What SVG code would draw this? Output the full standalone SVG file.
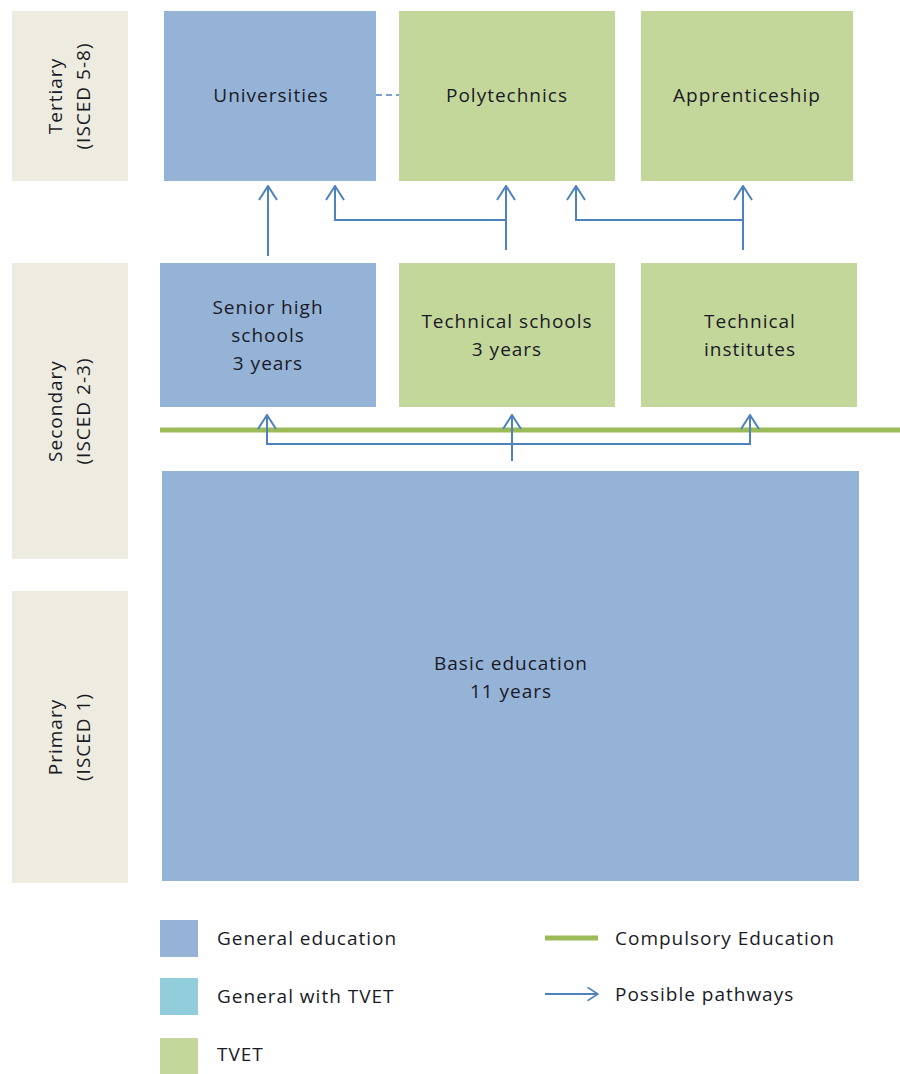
<svg xmlns="http://www.w3.org/2000/svg" width="900" height="1074" viewBox="0 0 900 1074">
  <style>
    .lvl { fill: #eeece1; }
    .gen { fill: #95b3d7; }
    .tvet { fill: #c4d79b; }
    .mix { fill: #92cddc; }
    text { font-family: "Open Sans", "Liberation Sans", sans-serif; font-size: 19px; fill: #1a1a26; letter-spacing: 1px; }
    .c { text-anchor: middle; }
    .path { fill: none; stroke: #4f81bd; stroke-width: 2; }
    .compulsory { stroke: #9bbb59; stroke-width: 5; }
  </style>
  <defs>
    <marker id="head" viewBox="0 0 16 20" refX="15" refY="10" markerWidth="16" markerHeight="20" markerUnits="userSpaceOnUse" orient="auto">
      <path d="M1,1 L15,10 L1,19" fill="none" stroke="#4f81bd" stroke-width="2"/>
    </marker>
    <marker id="headSmall" viewBox="0 0 16 20" refX="15" refY="10" markerWidth="12" markerHeight="15" markerUnits="userSpaceOnUse" orient="auto">
      <path d="M1,1 L15,10 L1,19" fill="none" stroke="#4f81bd" stroke-width="2"/>
    </marker>
  </defs>

  <!-- level labels -->
  <g id="level-tertiary">
    <rect class="lvl" x="12" y="11" width="116" height="170"/>
    <g transform="translate(0,96) rotate(-90)">
      <text class="c" x="0" y="62">Tertiary</text>
      <text class="c" x="0" y="90">(ISCED 5-8)</text>
    </g>
  </g>
  <g id="level-secondary">
    <rect class="lvl" x="12" y="263" width="116" height="296"/>
    <g transform="translate(0,411) rotate(-90)">
      <text class="c" x="0" y="62">Secondary</text>
      <text class="c" x="0" y="90">(ISCED 2-3)</text>
    </g>
  </g>
  <g id="level-primary">
    <rect class="lvl" x="12" y="591" width="116" height="292"/>
    <g transform="translate(0,737) rotate(-90)">
      <text class="c" x="0" y="62">Primary</text>
      <text class="c" x="0" y="90">(ISCED 1)</text>
    </g>
  </g>

  <!-- tertiary institutions -->
  <g id="universities">
    <rect class="gen" x="164" y="11" width="212" height="170"/>
    <text class="c" x="271" y="102">Universities</text>
  </g>
  <g id="polytechnics">
    <rect class="tvet" x="399" y="11" width="216" height="170"/>
    <text class="c" x="507" y="102">Polytechnics</text>
  </g>
  <g id="apprenticeship">
    <rect class="tvet" x="641" y="11" width="212" height="170"/>
    <text class="c" x="747" y="102">Apprenticeship</text>
  </g>

  <!-- secondary institutions -->
  <g id="senior-high">
    <rect class="gen" x="160" y="263" width="216" height="144"/>
    <text class="c" x="268" y="314">Senior high</text>
    <text class="c" x="268" y="342">schools</text>
    <text class="c" x="268" y="370">3 years</text>
  </g>
  <g id="technical-schools">
    <rect class="tvet" x="399" y="263" width="216" height="144"/>
    <text class="c" x="507" y="328">Technical schools</text>
    <text class="c" x="507" y="356">3 years</text>
  </g>
  <g id="technical-institutes">
    <rect class="tvet" x="641" y="263" width="216" height="144"/>
    <text class="c" x="750" y="328">Technical</text>
    <text class="c" x="750" y="356">institutes</text>
  </g>

  <!-- basic education -->
  <g id="basic-education">
    <rect class="gen" x="162" y="471" width="697" height="410"/>
    <text class="c" x="511" y="670">Basic education</text>
    <text class="c" x="511" y="698">11 years</text>
  </g>

  <!-- compulsory education boundary -->
  <line id="compulsory-line" class="compulsory" x1="160" y1="430" x2="900" y2="430"/>

  <!-- pathways -->
  <g id="connectors">
    <line x1="376" y1="95" x2="399" y2="95" stroke="#4f81bd" stroke-width="1.5" stroke-dasharray="6,4"/>
    <path class="path" d="M268,256 V186" marker-end="url(#head)"/>
    <path class="path" d="M506,250 V186" marker-end="url(#head)"/>
    <path class="path" d="M506,220 H335 V186" marker-end="url(#head)"/>
    <path class="path" d="M743,250 V186" marker-end="url(#head)"/>
    <path class="path" d="M743,220 H576 V186" marker-end="url(#head)"/>
    <path class="path" d="M512,461 V415" marker-end="url(#head)"/>
    <path class="path" d="M512,444 H267 V415" marker-end="url(#head)"/>
    <path class="path" d="M512,444 H750 V415" marker-end="url(#head)"/>
  </g>

  <!-- legend -->
  <g id="legend">
    <rect class="gen" x="160" y="920" width="38" height="37"/>
    <text x="217" y="945">General education</text>
    <rect class="mix" x="160" y="978" width="38" height="37"/>
    <text x="217" y="1003">General with TVET</text>
    <rect class="tvet" x="160" y="1038" width="38" height="36"/>
    <text x="217" y="1061">TVET</text>
    <line class="compulsory" x1="545" y1="938" x2="598" y2="938"/>
    <text x="615" y="945">Compulsory Education</text>
    <path class="path" d="M545,994 H598" marker-end="url(#headSmall)"/>
    <text x="615" y="1001">Possible pathways</text>
  </g>
</svg>
